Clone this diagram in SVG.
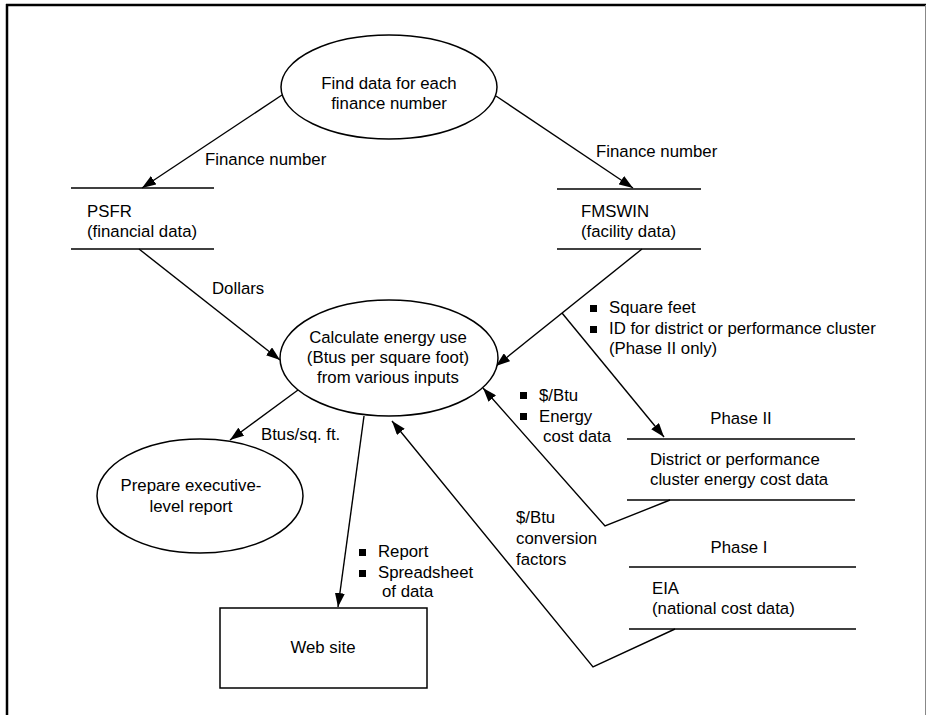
<svg xmlns="http://www.w3.org/2000/svg" width="926" height="715" viewBox="0 0 926 715">
<defs>
<style>
text{font-family:"Liberation Sans",Arial,sans-serif;font-size:16.8px;fill:#000}
.c{text-anchor:middle}
.shape{fill:#fff;stroke:#000;stroke-width:1.5}
.store{stroke:#000;stroke-width:1.6;fill:none}
.conn{fill:none;stroke:#000;stroke-width:1.4}
.bul{fill:#000}
</style>
<marker id="ah" viewBox="0 0 14 10" refX="14" refY="5" markerWidth="14" markerHeight="10" orient="auto" markerUnits="userSpaceOnUse"><path d="M0,0 L14,5 L0,10 z" fill="#000"/></marker>
</defs>
<rect width="926" height="715" fill="#fff"/>
<g id="frame">
<line x1="6" y1="5" x2="926" y2="5" stroke="#000" stroke-width="2.5"/>
<line x1="7" y1="4" x2="7" y2="715" stroke="#000" stroke-width="2.5"/>
<line x1="925.5" y1="5" x2="925.5" y2="715" stroke="#888" stroke-width="1"/>
</g>
<g id="connectors">
<path class="conn" d="M282,95 L142,188" marker-end="url(#ah)"/>
<path class="conn" d="M496,96 L633,188" marker-end="url(#ah)"/>
<path class="conn" d="M139,249 L280,360" marker-end="url(#ah)"/>
<path class="conn" d="M642,249 L496,366" marker-end="url(#ah)"/>
<path class="conn" d="M562,313 L664,437" marker-end="url(#ah)"/>
<path class="conn" d="M298,390 L230,440" marker-end="url(#ah)"/>
<path class="conn" d="M364,416 L338,607" marker-end="url(#ah)"/>
<path class="conn" d="M670,500 L605,526 L483,388" marker-end="url(#ah)"/>
<path class="conn" d="M675,629 L593,667 L392,421" marker-end="url(#ah)"/>
</g>
<g id="find">
<ellipse class="shape" cx="389" cy="87" rx="108" ry="52"/>
<text class="c" x="389" y="89">Find data for each</text>
<text class="c" x="389" y="109">finance number</text>
</g>
<g id="psfr">
<line class="store" x1="71" y1="188" x2="214" y2="188"/>
<line class="store" x1="71" y1="249" x2="214" y2="249"/>
<text x="87" y="217">PSFR</text>
<text x="87" y="237">(financial data)</text>
</g>
<g id="fmswin">
<line class="store" x1="557" y1="189" x2="701" y2="189"/>
<line class="store" x1="557" y1="249" x2="701" y2="249"/>
<text x="581" y="217">FMSWIN</text>
<text x="581" y="237">(facility data)</text>
</g>
<g id="calc">
<ellipse class="shape" cx="389" cy="358" rx="109" ry="58"/>
<text class="c" x="388" y="343">Calculate energy use</text>
<text class="c" x="388" y="363">(Btus per square foot)</text>
<text class="c" x="388" y="383">from various inputs</text>
</g>
<g id="prepare">
<ellipse class="shape" cx="200" cy="496" rx="103" ry="57"/>
<text class="c" x="191" y="491">Prepare executive-</text>
<text class="c" x="191" y="512">level report</text>
</g>
<g id="website">
<rect class="shape" x="220" y="608" width="207" height="80"/>
<text class="c" x="323" y="653">Web site</text>
</g>
<g id="phase2">
<text class="c" x="741" y="424">Phase II</text>
<line class="store" x1="627" y1="439" x2="855" y2="439"/>
<line class="store" x1="627" y1="500" x2="855" y2="500"/>
<text x="650" y="465">District or performance</text>
<text x="650" y="485">cluster energy cost data</text>
</g>
<g id="phase1">
<text class="c" x="739" y="553">Phase I</text>
<line class="store" x1="629" y1="567" x2="856" y2="567"/>
<line class="store" x1="629" y1="629" x2="856" y2="629"/>
<text x="652" y="594">EIA</text>
<text x="652" y="614">(national cost data)</text>
</g>
<g id="labels">
<text x="205" y="165">Finance number</text>
<text x="596" y="157">Finance number</text>
<text x="212" y="294">Dollars</text>
<rect class="bul" x="590" y="305" width="7" height="7"/>
<text x="609" y="313">Square feet</text>
<rect class="bul" x="590" y="326" width="7" height="7"/>
<text x="609" y="334">ID for district or performance cluster</text>
<text x="609" y="354">(Phase II only)</text>
<rect class="bul" x="520" y="392" width="7" height="7"/>
<text x="539" y="401">$/Btu</text>
<rect class="bul" x="520" y="413" width="7" height="7"/>
<text x="539" y="422">Energy</text>
<text x="543" y="442">cost data</text>
<text x="261" y="440">Btus/sq. ft.</text>
<text x="516" y="523">$/Btu</text>
<text x="516" y="544">conversion</text>
<text x="516" y="565">factors</text>
<rect class="bul" x="359" y="549" width="7" height="7"/>
<text x="378" y="557">Report</text>
<rect class="bul" x="359" y="570" width="7" height="7"/>
<text x="378" y="578">Spreadsheet</text>
<text x="382" y="597">of data</text>
</g>
</svg>
